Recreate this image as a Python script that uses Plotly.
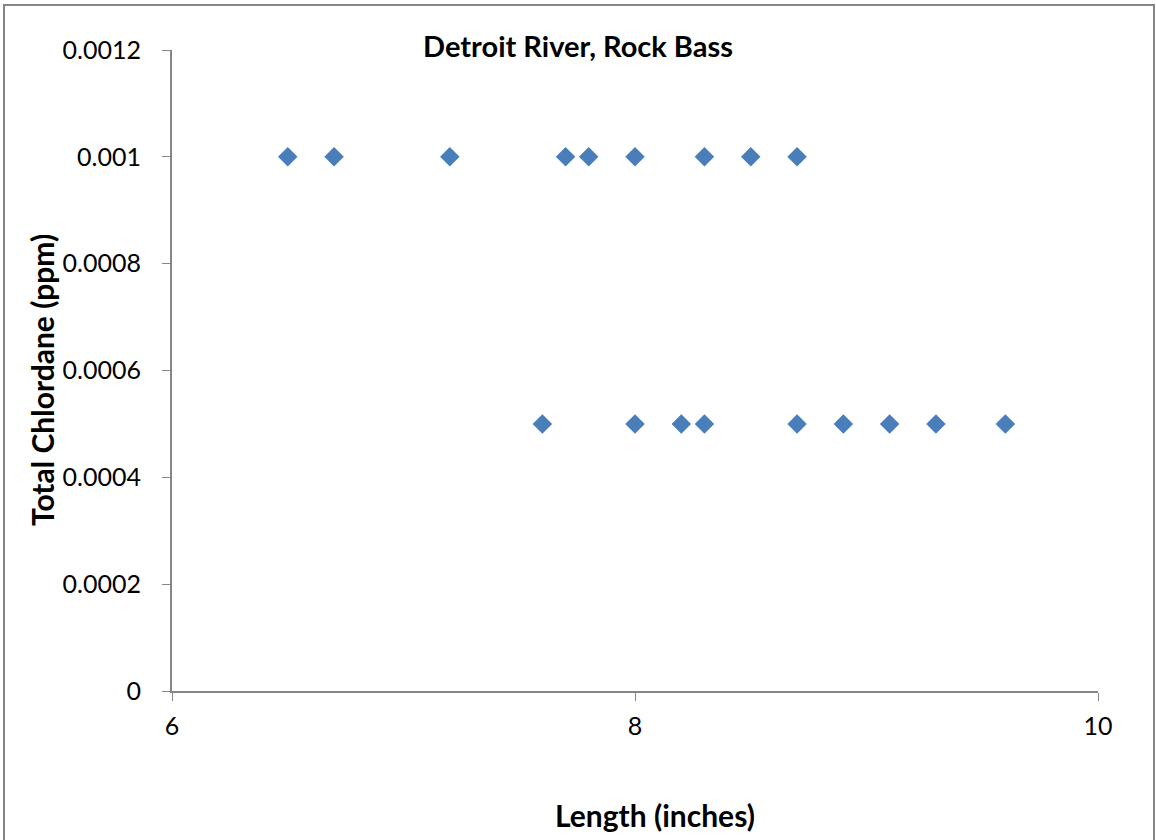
import plotly.graph_objects as go

# fish lengths (inches) and total chlordane (ppm)
length_in = [6.5, 6.7, 7.2, 7.7, 7.8, 8.0, 8.3, 8.5, 8.7,
             7.6, 8.0, 8.2, 8.3, 8.7, 8.9, 9.1, 9.3, 9.6]
chlordane_ppm = [0.001] * 9 + [0.0005] * 9

x_ticks = [6, 8, 10]
y_ticks = [0, 0.0002, 0.0004, 0.0006, 0.0008, 0.001, 0.0012]
y_labels = ["0", "0.0002", "0.0004", "0.0006", "0.0008", "0.001", "0.0012"]

W, H = 1156, 840
ml, mr, mt, mb = 172, 58, 50, 149
pw, ph = W - ml - mr, H - mt - mb


def px(x):
    return (x - ml) / pw


def py(y):
    return (H - mb - y) / ph


fig = go.Figure()
fig.add_trace(go.Scatter(
    x=length_in, y=chlordane_ppm, mode="markers",
    marker=dict(symbol="diamond", size=15, color="#4A7EBB",
                line=dict(width=0)),
    showlegend=False,
))

axis_color = "#868686"
fig.update_xaxes(
    range=[6, 10], tickvals=x_ticks, ticks="outside", ticklen=8,
    tickcolor=axis_color, showline=True, linecolor=axis_color, linewidth=2,
    showgrid=False, zeroline=False, ticklabelstandoff=4,
    tickfont=dict(size=25, color="black"),
)
fig.update_yaxes(
    range=[0, 0.0012], tickvals=y_ticks, ticktext=y_labels, ticks="outside",
    ticklen=8, tickcolor=axis_color, showline=True, linecolor=axis_color,
    linewidth=2, showgrid=False, zeroline=False, ticklabelstandoff=16,
    tickfont=dict(size=25, color="black"),
)

# axis titles
fig.add_annotation(text="<b>Length (inches)</b>", xref="paper", yref="paper",
                   x=px(655), y=py(815), showarrow=False,
                   xanchor="center", yanchor="middle",
                   font=dict(size=30, color="black"))
fig.add_annotation(text="<b>Total Chlordane (ppm)</b>", xref="paper", yref="paper",
                   x=px(42), y=py(380), showarrow=False, textangle=-90,
                   xanchor="center", yanchor="middle",
                   font=dict(size=30, color="black"))

# outer chart border
fig.add_shape(
    type="rect", xref="paper", yref="paper",
    x0=px(4), x1=px(1154), y0=py(845), y1=py(5),
    line=dict(color=axis_color, width=2), layer="below",
)

fig.update_layout(
    width=W, height=H,
    margin=dict(l=ml, r=mr, t=mt, b=mb),
    paper_bgcolor="white", plot_bgcolor="white",
    font=dict(family="Lato, Open Sans, sans-serif", color="black"),
    title=dict(text="<b>Detroit River, Rock Bass</b>", x=0.5, xanchor="center",
               y=1 - 47 / H, yanchor="middle",
               font=dict(size=29, color="black")),
)

fig.write_html("out.html", config={"displayModeBar": False},
               post_script="document.body.style.margin='0';")
